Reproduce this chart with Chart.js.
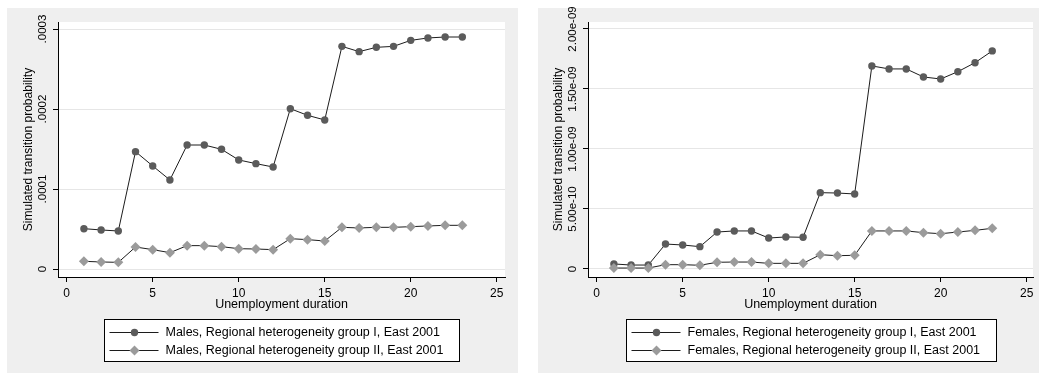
<!DOCTYPE html>
<html>
<head>
<meta charset="utf-8">
<script src="https://cdn.jsdelivr.net/npm/chart.js@4.4.1/dist/chart.umd.min.js"></script>
<style>
  html, body { margin: 0; padding: 0; background: #ffffff; }
  #page { position: relative; width: 1039px; height: 374px; background: #ffffff; overflow: hidden; }
  canvas { position: absolute; top: 0; }
  #males { left: 7px; }
  #females { left: 538px; }
</style>
</head>
<body>
<div id="page">
  <canvas id="males" width="511" height="374"></canvas>
  <canvas id="females" width="501" height="374"></canvas>
</div>
<script>
// Unemployment duration (months)
const durations = [1, 2, 3, 4, 5, 6, 7, 8, 9, 10, 11, 12, 13, 14, 15, 16, 17, 18, 19, 20, 21, 22, 23];

// Simulated transition probabilities, males
const maleGroupI = [5.04e-5, 4.88e-5, 4.75e-5, 1.467e-4, 1.288e-4, 1.113e-4, 1.55e-4, 1.55e-4, 1.496e-4,
  1.363e-4, 1.317e-4, 1.275e-4, 2.004e-4, 1.921e-4, 1.863e-4, 2.783e-4, 2.717e-4, 2.771e-4, 2.783e-4,
  2.858e-4, 2.888e-4, 2.9e-4, 2.9e-4];
const maleGroupII = [9.6e-6, 8.8e-6, 8.3e-6, 2.75e-5, 2.42e-5, 2.04e-5, 2.92e-5, 2.92e-5, 2.79e-5,
  2.54e-5, 2.5e-5, 2.42e-5, 3.79e-5, 3.67e-5, 3.5e-5, 5.21e-5, 5.13e-5, 5.21e-5, 5.21e-5,
  5.29e-5, 5.38e-5, 5.46e-5, 5.46e-5];

// Simulated transition probabilities, females
const femaleGroupI = [4.2e-11, 3.3e-11, 3.3e-11, 2.08e-10, 2.0e-10, 1.86e-10, 3.08e-10, 3.17e-10, 3.17e-10,
  2.58e-10, 2.67e-10, 2.64e-10, 6.36e-10, 6.33e-10, 6.25e-10, 1.692e-9, 1.667e-9, 1.667e-9, 1.6e-9,
  1.583e-9, 1.644e-9, 1.719e-9, 1.817e-9];
const femaleGroupII = [8e-12, 8e-12, 8e-12, 3.6e-11, 3.6e-11, 3.1e-11, 5.6e-11, 5.8e-11, 5.8e-11,
  4.7e-11, 4.7e-11, 4.7e-11, 1.19e-10, 1.11e-10, 1.14e-10, 3.17e-10, 3.17e-10, 3.17e-10, 3.03e-10,
  2.94e-10, 3.08e-10, 3.22e-10, 3.39e-10];

// Series labels
const maleLabels = ['Males, Regional heterogeneity group I, East 2001', 'Males, Regional heterogeneity group II, East 2001'];
const femaleLabels = ['Females, Regional heterogeneity group I, East 2001', 'Females, Regional heterogeneity group II, East 2001'];

// Axis ticks
const xTickValues = [0, 5, 10, 15, 20, 25];
const maleYTickValues = [0, 1e-4, 2e-4, 3e-4];
const maleYTickLabels = ['0', '.0001', '.0002', '.0003'];
const femaleYTickValues = [0, 5e-10, 1e-9, 1.5e-9, 2e-9];
const femaleYTickLabels = ['0', '5.00e-10', '1.00e-09', '1.50e-09', '2.00e-09'];

const xTitle = 'Unemployment duration';
const yTitle = 'Simulated transition probability';

const FONT = "'Liberation Sans', Arial, Helvetica, sans-serif";
const PANEL_BG = '#efefef';
const PANEL_TOP = 8;
const PANEL_BOTTOM = 373;
const LINE_COLOR = '#1c1c1c';
const DARK_MARK = '#5b5b5b';
const LIGHT_MARK = '#9b9b9b';

function points(values) {
  return durations.map((d, i) => ({ x: d, y: values[i] }));
}

// Panel background, rotated y labels, axis titles and the boxed legend
const panelDecor = {
  id: 'panelDecor',
  beforeDraw(chart) {
    const { ctx, width, chartArea: a } = chart;
    ctx.save();
    ctx.fillStyle = PANEL_BG;
    ctx.fillRect(0, PANEL_TOP, width, PANEL_BOTTOM - PANEL_TOP);
    ctx.fillStyle = '#ffffff';
    ctx.fillRect(a.left, a.top, a.right - a.left, a.bottom - a.top);
    ctx.restore();
  },
  afterDraw(chart, args, opts) {
    const { ctx, chartArea: a, scales } = chart;
    const y = scales.y;
    ctx.save();
    ctx.fillStyle = '#000';

    // rotated y tick labels
    ctx.font = '11.5px ' + FONT;
    ctx.textAlign = 'center';
    ctx.textBaseline = 'middle';
    opts.yTicks.forEach((v, i) => {
      const py = y.getPixelForValue(v);
      ctx.save();
      ctx.translate(a.left - 15.5, py);
      ctx.rotate(-Math.PI / 2);
      ctx.fillText(opts.yLabels[i], 0, 0);
      ctx.restore();
    });

    // y axis title
    ctx.font = '12px ' + FONT;
    ctx.save();
    ctx.translate(a.left - 29, (a.top + a.bottom) / 2);
    ctx.rotate(-Math.PI / 2);
    ctx.fillText(yTitle, 0, 0);
    ctx.restore();

    // x axis title
    ctx.font = '12.5px ' + FONT;
    const cx = (a.left + a.right) / 2;
    ctx.fillText(xTitle, cx, a.bottom + 28);

    // legend
    ctx.font = '12.5px ' + FONT;
    const ds = chart.data.datasets;
    const textW = Math.max(...ds.map(d => ctx.measureText(d.label).width));
    const boxW = Math.round(61 + textW + 16);
    const boxL = Math.round(cx - boxW / 2) + 0.5;
    const boxT = a.bottom + 42.5;
    const boxH = 42;
    ctx.fillStyle = '#ffffff';
    ctx.fillRect(boxL, boxT, boxW, boxH);
    ctx.strokeStyle = '#000';
    ctx.lineWidth = 1;
    ctx.strokeRect(boxL, boxT, boxW, boxH);
    ds.forEach((d, i) => {
      const ry = boxT + 13 + i * 18;
      ctx.strokeStyle = LINE_COLOR;
      ctx.beginPath();
      ctx.moveTo(boxL + 5, ry);
      ctx.lineTo(boxL + 54, ry);
      ctx.stroke();
      ctx.fillStyle = d.pointBackgroundColor;
      Chart.helpers.drawPoint(ctx, {
        pointStyle: d.pointStyle, radius: d.pointRadius, rotation: 0, borderWidth: 0
      }, boxL + 30, ry);
      ctx.fillStyle = '#000';
      ctx.textAlign = 'left';
      ctx.fillText(d.label, boxL + 61, ry + 0.5);
    });
    ctx.restore();
  }
};

function buildChart(canvasId, labels, seriesI, seriesII, yTicks, yLabels, ranges, pad, yWidth) {
  return new Chart(document.getElementById(canvasId), {
    type: 'line',
    data: {
      datasets: [
        {
          label: labels[0],
          data: points(seriesI),
          borderColor: LINE_COLOR,
          borderWidth: 1,
          pointStyle: 'circle',
          pointRadius: 3.7,
          pointBackgroundColor: DARK_MARK,
          pointBorderWidth: 0,
          tension: 0,
          order: 1
        },
        {
          label: labels[1],
          data: points(seriesII),
          borderColor: LINE_COLOR,
          borderWidth: 1,
          pointStyle: 'rectRot',
          pointRadius: 5,
          pointBackgroundColor: LIGHT_MARK,
          pointBorderWidth: 0,
          tension: 0,
          order: 0
        }
      ]
    },
    options: {
      responsive: false,
      animation: false,
      devicePixelRatio: 1,
      layout: { padding: pad },
      plugins: {
        legend: { display: false },
        tooltip: { enabled: false },
        panelDecor: { yTicks: yTicks, yLabels: yLabels }
      },
      scales: {
        x: {
          type: 'linear',
          min: ranges.xMin,
          max: ranges.xMax,
          afterBuildTicks: s => { s.ticks = xTickValues.map(v => ({ value: v })); },
          afterFit: s => { s.height = 97; s.paddingLeft = 0; s.paddingRight = 0; },
          ticks: {
            color: '#000',
            font: { family: FONT, size: 12 },
            padding: 4,
            maxRotation: 0,
            callback: v => String(v)
          },
          grid: { drawOnChartArea: false, drawTicks: true, tickLength: 5, tickColor: '#000' },
          border: { display: true, color: '#000', width: 1 }
        },
        y: {
          type: 'linear',
          min: ranges.yMin,
          max: ranges.yMax,
          afterBuildTicks: s => { s.ticks = yTicks.map(v => ({ value: v })); },
          afterFit: s => { s.width = yWidth; s.paddingTop = 0; s.paddingBottom = 0; },
          ticks: { display: false },
          grid: { color: '#e6e6e6', lineWidth: 1, drawTicks: true, tickLength: 5, tickColor: '#000' },
          border: { display: true, color: '#000', width: 1 }
        }
      }
    },
    plugins: [panelDecor]
  });
}

buildChart('males', maleLabels, maleGroupI, maleGroupII, maleYTickValues, maleYTickLabels,
  { xMin: -0.506, xMax: 25.48, yMin: -1e-5, yMax: 3.0875e-4 },
  { left: 0, top: 22, right: 13, bottom: 0 }, 51);

buildChart('females', femaleLabels, femaleGroupI, femaleGroupII, femaleYTickValues, femaleYTickLabels,
  { xMin: -0.506, xMax: 25.37, yMin: -6.67e-11, yMax: 2.058e-9 },
  { left: 0, top: 22, right: 6, bottom: 0 }, 50);
</script>
</body>
</html>
